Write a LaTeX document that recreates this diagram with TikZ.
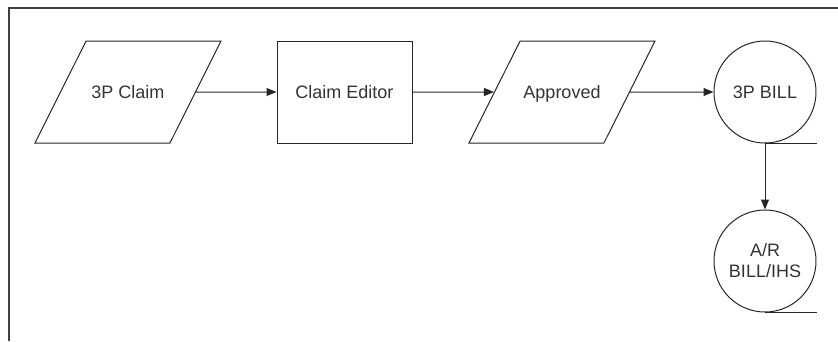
\documentclass[tikz,border=0pt]{standalone}
\usepackage{fontspec}
\setmainfont{Liberation Sans}
\usetikzlibrary{shapes.geometric,arrows.meta}

\tikzset{
  flowline/.style={draw=black!85, line width=1pt},
  datanode/.style={flowline, trapezium, trapezium left angle=63.4, trapezium right angle=116.6,
                   trapezium stretches body=true, text height=13pt, text depth=0pt,
                   inner ysep=44.5pt, inner xsep=0pt, minimum width=186pt},
  procnode/.style={flowline, rectangle, minimum width=135pt, minimum height=102pt, inner sep=0pt},
  tapenode/.style={flowline, circle, minimum size=102pt, inner sep=0pt, align=center},
  flowarrow/.style={flowline, -{Triangle[length=10pt,width=8pt]}},
}

\begin{document}
\begin{tikzpicture}[x=1pt, y=-1pt, font=\fontsize{18}{21}\selectfont, text=black!80]
            \useasboundingbox (0,0) rectangle (838,341);

            % page frame
            \draw[draw=black!75, line width=1.5pt] (9,341) -- (9,8) -- (838,8);

            \node[datanode] (claim)    at (128,92)   {3P Claim};
            \node[procnode] (editor)   at (344.5,92) {Claim Editor};
            \node[datanode] (approved) at (562,92)   {Approved};
            \node[tapenode] (bill)     at (765,92)   {3P BILL};
            \node[tapenode] (arbill)   at (765,261)  {A/R\\BILL/IHS};

            % tape tails
            \draw[flowline] (bill.south) -- (bill.south -| bill.east);
            \draw[flowline] (arbill.south) -- (arbill.south -| arbill.east);

            \draw[flowarrow] (claim) -- (editor);
            \draw[flowarrow] (editor) -- (approved);
            \draw[flowarrow] (approved) -- (bill);
            \draw[flowarrow] (bill) -- (arbill);
\end{tikzpicture}
\end{document}
